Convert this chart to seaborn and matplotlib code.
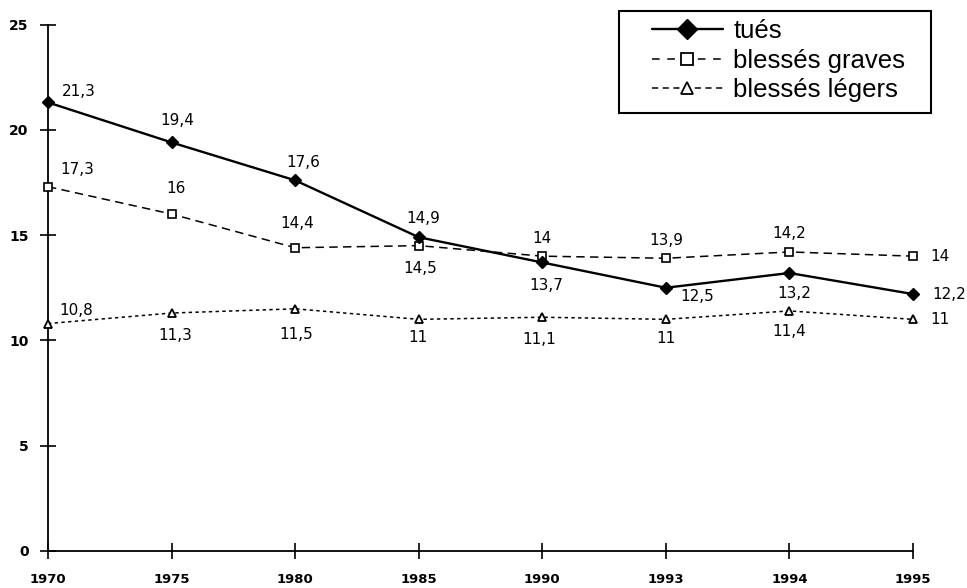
import matplotlib
matplotlib.use("Agg")
import matplotlib.pyplot as plt
from matplotlib.lines import Line2D
from matplotlib.patches import Rectangle
import seaborn as sns
import pandas as pd

# ---------------- data ----------------
years = ["1970", "1975", "1980", "1985", "1990", "1993", "1994", "1995"]
tues = [21.3, 19.4, 17.6, 14.9, 13.7, 12.5, 13.2, 12.2]
blesses_graves = [17.3, 16.0, 14.4, 14.5, 14.0, 13.9, 14.2, 14.0]
blesses_legers = [10.8, 11.3, 11.5, 11.0, 11.1, 11.0, 11.4, 11.0]
series_names = ["tués", "blessés graves", "blessés légers"]
y_ticks = [0, 5, 10, 15, 20, 25]

# ---------------- layout (label offsets in pixels: dx, dy up, ha) ----------------
off_tues = [(14, 11, "left"), (6, 22, "center"), (8, 18, "center"), (5, 19, "center"),
            (4, -23, "center"), (14, -9, "left"), (5, -20, "center"), (19, 0, "left")]
off_graves = [(12, 17, "left"), (4, 26, "center"), (2, 24, "center"), (1, -23, "center"),
              (0, 18, "center"), (0, 18, "center"), (0, 18, "center"), (17, 0, "left")]
off_legers = [(11, 13, "left"), (4, -22, "center"), (1, -26, "center"), (-1, -18, "center"),
              (-3, -22, "center"), (0, -19, "center"), (0, -21, "center"), (17, 0, "left")]

sns.set_theme(style="white")
plt.rcParams["font.family"] = ["DejaVu Sans"]
plt.rcParams["text.color"] = "black"
plt.rcParams["xtick.color"] = "black"
plt.rcParams["ytick.color"] = "black"
plt.rcParams["axes.labelcolor"] = "black"

W, H = 967, 588
fig = plt.figure(figsize=(W / 100, H / 100), dpi=100)
ax = fig.add_axes([48 / W, 1 - 551 / H, (913 - 48) / W, (551 - 24.5) / H])

df = pd.DataFrame({"année": years, "tués": tues,
                   "blessés graves": blesses_graves, "blessés légers": blesses_legers})

sns.lineplot(data=df, x="année", y="tués", ax=ax, color="black", linewidth=1.7,
             marker="D", markersize=6.5, markerfacecolor="black", markeredgecolor="black",
             markeredgewidth=1.0, errorbar=None, sort=False, clip_on=False, zorder=4)
sns.lineplot(data=df, x="année", y="blessés graves", ax=ax, color="black", linewidth=1.1,
             marker="s", markersize=5.5, markerfacecolor="white", markeredgecolor="black",
             markeredgewidth=1.2, errorbar=None, sort=False, clip_on=False, zorder=3)
sns.lineplot(data=df, x="année", y="blessés légers", ax=ax, color="black", linewidth=1.1,
             marker="^", markersize=6, markerfacecolor="white", markeredgecolor="black",
             markeredgewidth=1.3, errorbar=None, sort=False, clip_on=False, zorder=3)

lines = ax.get_lines()
lines[1].set_dashes((5.5, 3.5))
lines[2].set_dashes((2.2, 2.2))

def fmt(v):
    return f"{v:g}".replace(".", ",")

for vals, offs in [(tues, off_tues), (blesses_graves, off_graves), (blesses_legers, off_legers)]:
    for i, (v, (dx, dy, ha)) in enumerate(zip(vals, offs)):
        ax.annotate(fmt(v), xy=(i, v), xytext=(dx, dy), textcoords="offset pixels",
                    ha=ha, va="center", fontsize=11, color="black")

ax.set_xlim(0, len(years) - 1)
ax.set_ylim(0, 25)
ax.set_yticks(y_ticks)
ax.set_yticklabels([str(t) for t in y_ticks])
ax.set_xticks(range(len(years)))
ax.set_xticklabels(years)
ax.set_xlabel("")
ax.set_ylabel("")

for s in ["top", "right"]:
    ax.spines[s].set_visible(False)
for s in ["left", "bottom"]:
    ax.spines[s].set_color("black")
    ax.spines[s].set_linewidth(1.3)

ax.tick_params(axis="y", direction="inout", length=12, width=1.2, color="black",
               pad=8, labelsize=10, left=True, labelcolor="black")
ax.tick_params(axis="x", direction="inout", length=12, width=1.2, color="black",
               pad=9.5, labelsize=9.5, bottom=True, labelcolor="black")
for lab in ax.get_xticklabels() + ax.get_yticklabels():
    lab.set_fontweight("bold")
ax.grid(False)

# legend
handles = [
    Line2D([], [], color="black", lw=1.7, marker="D", ms=10, mfc="black", mec="black"),
    Line2D([], [], color="black", lw=1.1, dashes=(5, 5), marker="s", ms=9, mfc="white",
           mec="black", mew=1.3),
    Line2D([], [], color="black", lw=1.1, dashes=(4, 3), marker="^", ms=9, mfc="white",
           mec="black", mew=1.3),
]
leg = fig.legend(handles, series_names, loc="upper left",
                 bbox_to_anchor=(652 / W, 1 - 19 / H), frameon=False, borderpad=0,
                 borderaxespad=0, handlelength=2.75, handletextpad=0.42,
                 labelspacing=0.22, prop={"family": "Liberation Sans", "size": 18.5})
for t in leg.get_texts():
    t.set_color("black")
fig.add_artist(Rectangle((619 / W, 1 - 113 / H), (931 - 619) / W, (113 - 11) / H,
                         transform=fig.transFigure, fill=False, edgecolor="black",
                         linewidth=1.5))

fig.savefig("out.png", dpi=100)
